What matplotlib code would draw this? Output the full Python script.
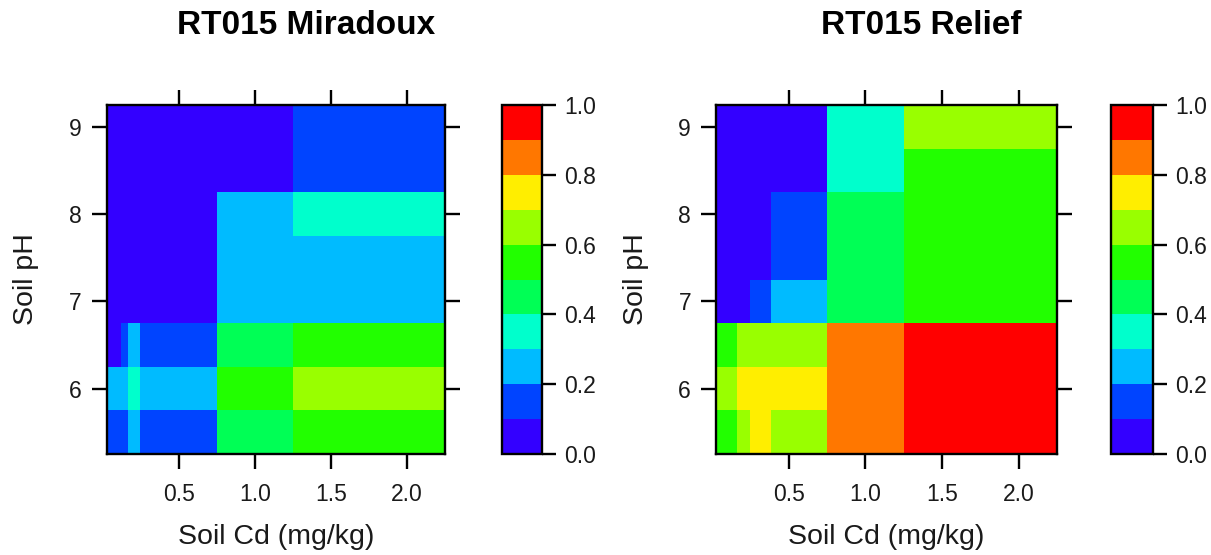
import numpy as np
import matplotlib
matplotlib.use("Agg")
import matplotlib.pyplot as plt
from matplotlib.colors import ListedColormap, BoundaryNorm, hsv_to_rgb
from matplotlib.cm import ScalarMappable

plt.rcParams['font.family'] = ['Liberation Sans', 'DejaVu Sans']

# ---- data ----
titles = ["RT015 Miradoux", "RT015 Relief"]
cd_edges = [0.025, 0.12, 0.165, 0.245, 0.385, 0.75, 1.25, 2.25]
ph_edges = [5.25, 5.75, 6.25, 6.75, 7.25, 7.75, 8.25, 8.75, 9.25]
# rows: pH 5.5 -> 9.0 ; columns follow cd_edges
miradoux = [
    [0.15, 0.15, 0.25, 0.15, 0.15, 0.45, 0.55],
    [0.25, 0.25, 0.35, 0.25, 0.25, 0.55, 0.65],
    [0.05, 0.15, 0.25, 0.15, 0.15, 0.45, 0.55],
    [0.05, 0.05, 0.05, 0.05, 0.05, 0.25, 0.25],
    [0.05, 0.05, 0.05, 0.05, 0.05, 0.25, 0.25],
    [0.05, 0.05, 0.05, 0.05, 0.05, 0.25, 0.35],
    [0.05, 0.05, 0.05, 0.05, 0.05, 0.05, 0.15],
    [0.05, 0.05, 0.05, 0.05, 0.05, 0.05, 0.15],
]
relief = [
    [0.55, 0.55, 0.65, 0.75, 0.65, 0.85, 0.95],
    [0.65, 0.65, 0.75, 0.75, 0.75, 0.85, 0.95],
    [0.55, 0.55, 0.65, 0.65, 0.65, 0.85, 0.95],
    [0.05, 0.05, 0.05, 0.15, 0.25, 0.45, 0.55],
    [0.05, 0.05, 0.05, 0.05, 0.15, 0.45, 0.55],
    [0.05, 0.05, 0.05, 0.05, 0.15, 0.45, 0.55],
    [0.05, 0.05, 0.05, 0.05, 0.05, 0.35, 0.55],
    [0.05, 0.05, 0.05, 0.05, 0.05, 0.35, 0.65],
]
x_ticks = [0.5, 1.0, 1.5, 2.0]
x_tick_labels = ["0.5", "1.0", "1.5", "2.0"]
y_ticks = [6, 7, 8, 9]
y_tick_labels = ["6", "7", "8", "9"]
cb_ticks = [0.0, 0.2, 0.4, 0.6, 0.8, 1.0]
cb_levels = np.linspace(0, 1, 11)

# rainbow(10, end=0.7) reversed: blue-violet -> red
hues = np.linspace(0.7, 0.0, 10)
colors = [hsv_to_rgb((h, 1, 1)) for h in hues]
cmap = ListedColormap(colors)
norm = BoundaryNorm(cb_levels, cmap.N)

W, H = 1211, 555
fig = plt.figure(figsize=(W / 100, H / 100), dpi=100)

def rect(x0, y0, x1, y1):
    return [x0 / W, 1 - y1 / H, (x1 - x0) / W, (y1 - y0) / H]

def ftext(x, y, s, **kw):
    fig.text(x / W, 1 - y / H, s, **kw)

panels = [
    dict(data=miradoux, ax=(107, 105, 445, 454), cb=(502, 105, 542, 454),
         title_x=306, ylab_x=26),
    dict(data=relief, ax=(716, 105, 1057, 454), cb=(1111, 105, 1153, 454),
         title_x=921, ylab_x=636),
]

lw = 1.7
txtc = '#1a1a1a'
for p, title in zip(panels, titles):
    ax = fig.add_axes(rect(*p['ax']))
    ax.pcolormesh(cd_edges, ph_edges, np.array(p['data']), cmap=cmap, norm=norm)
    ax.set_xlim(cd_edges[0], cd_edges[-1])
    ax.set_ylim(ph_edges[0], ph_edges[-1])
    ax.set_xticks(x_ticks)
    ax.set_xticklabels(x_tick_labels)
    ax.set_yticks(y_ticks)
    ax.set_yticklabels(y_tick_labels)
    ax.tick_params(direction='out', length=11, width=lw, top=True, right=True,
                   labeltop=False, labelright=False, labelsize=16.5, pad=7,
                   colors='black', labelcolor=txtc)
    ax.tick_params(axis='x', pad=10)
    for s in ax.spines.values():
        s.set_linewidth(lw)
    x0, y0, x1, y1 = p['ax']
    ftext((x0 + x1) / 2, 537, "Soil Cd (mg/kg)", ha='center', va='center',
          fontsize=20.5, color=txtc)
    ftext(p['ylab_x'], (y0 + y1) / 2, "Soil pH", ha='center', va='center',
          rotation=90, fontsize=20.5, color=txtc)
    ftext(p['title_x'], 26, title, ha='center', va='center', fontsize=24,
          fontweight='bold', color='black')

    cax = fig.add_axes(rect(*p['cb']))
    sm = ScalarMappable(norm=norm, cmap=cmap)
    cbar = fig.colorbar(sm, cax=cax, ticks=cb_ticks, boundaries=cb_levels)
    cbar.ax.minorticks_off()
    cbar.ax.set_yticks(cb_ticks)
    cbar.ax.set_yticks([], minor=True)
    cbar.ax.set_yticklabels([f"{t:.1f}" for t in cb_ticks])
    cbar.ax.tick_params(direction='out', length=10, width=lw, labelsize=16.5, pad=6,
                        labelcolor=txtc)
    cbar.outline.set_linewidth(lw)

fig.savefig("out.png", dpi=100)
